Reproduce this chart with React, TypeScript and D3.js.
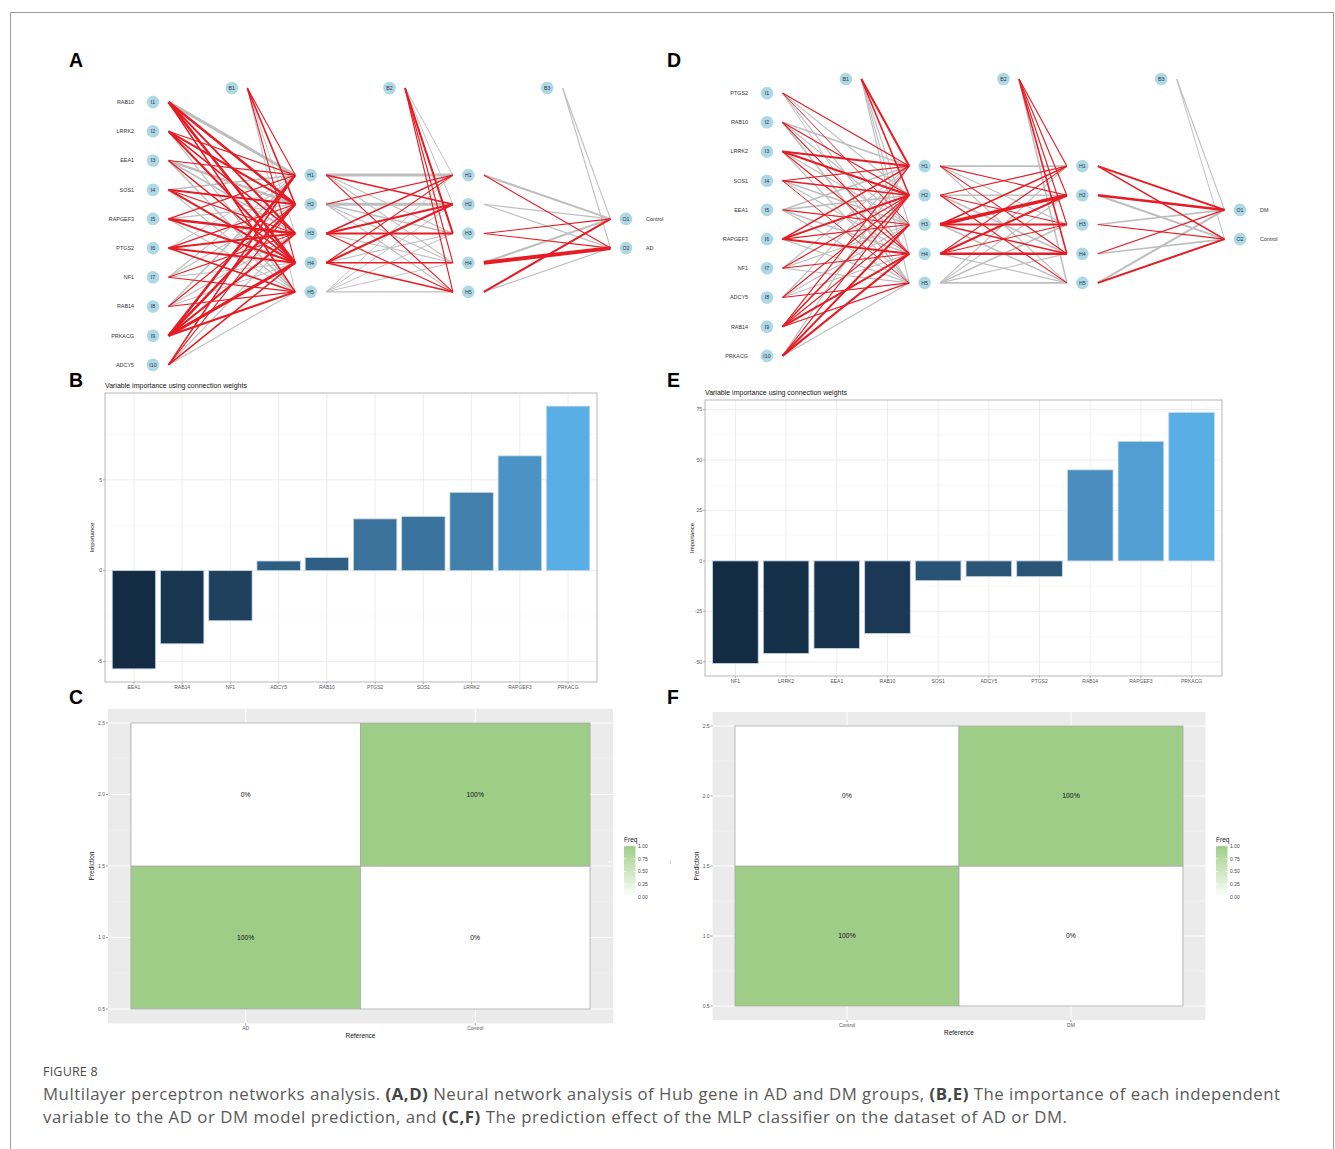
import * as d3 from "d3";

// ---------- A: AD network (positive weight = red, negative = grey) ----------
const inputsAD = ["RAB10", "LRRK2", "EEA1", "SOS1", "RAPGEF3", "PTGS2", "NF1", "RAB14", "PRKACG", "ADCY5"];
const outputsAD = ["Control", "AD"];
const wInHidAD = [
  [-3, 2.5, 2, 2.5, 1.5],
  [1, 2, 1.5, 2, -1],
  [1, -2.5, -1.5, 1.5, -1.5],
  [-1.5, 2, 1, 2, -1],
  [1, -1, 2.5, 2, -1],
  [-0.8, 1, 2, 2, 1.5],
  [-1, -1, 1, -1, 1],
  [-1.5, 1, -1, -1, 1],
  [2.5, 2.5, 2, 3, 2],
  [1.5, 1, -1, 1.5, -1],
];
const wB1AD = [1, 1.5, -0.8, 1, -0.8];
const wHidHidAD = [
  [-3, 1.5, -1, -1, 1],
  [1, -3, -1.5, -1, -1],
  [1.5, 2, 2, -1, 1],
  [1, 2, -1, 1.5, 1.5],
  [-0.8, -0.8, -0.8, -0.8, -1],
];
const wB2AD = [-0.8, -0.8, 2, 1, 1];
const wHidOutAD = [
  [-2, 1],
  [-1, -1],
  [1, 1],
  [-2, 4],
  [2, -1],
];
const wB3AD = [-1, -1];

// ---------- D: DM network ----------
const inputsDM = ["PTGS2", "RAB10", "LRRK2", "SOS1", "EEA1", "RAPGEF3", "NF1", "ADCY5", "RAB14", "PRKACG"];
const outputsDM = ["DM", "Control"];
const wInHidDM = [
  [1, -1, 0.8, -1, -0.8],
  [-1.5, 1, -1, 1, -1.5],
  [2, 2, -1, 1, -1],
  [1, 1.5, -1.5, -1, 0.8],
  [-1.5, -1.5, 1, -1.5, -1],
  [1.5, 2, 1, 2, -1],
  [-1, 1, -1, 1, -1],
  [-1, 1, -1, -1, 1],
  [1, 1.5, 1, 2, 1],
  [-1, 1, 2, 2, -1],
];
const wB1DM = [2, 1.5, -1, -1, -1];
const wHidHidDM = [
  [-1.5, 1, -1, 1, -1],
  [1, -1.5, 1, -1.5, 1],
  [1.5, 3.5, 2, 1.5, -1.5],
  [1, 2, 1, 2.5, -1],
  [-1, -1, -1.5, -1, -1.5],
];
const wB2DM = [1, 1, 1, 1.5, -1.5];
const wHidOutDM = [
  [2, 1.5],
  [2.5, -2],
  [-1.5, 1],
  [1, -1.5],
  [-2, 2],
];
const wB3DM = [-1, -0.8];

// ---------- B / E: variable importance ----------
const impNamesAD = ["EEA1", "RAB14", "NF1", "ADCY5", "RAB10", "PTGS2", "SOS1", "LRRK2", "RAPGEF3", "PRKACG"];
const impValuesAD = [-5.41, -4.03, -2.76, 0.53, 0.72, 2.85, 2.98, 4.31, 6.32, 9.06];
const impTicksAD = [-5, 0, 5];
const impMinorAD = [-2.5, 2.5, 7.5];

const impNamesDM = ["NF1", "LRRK2", "EEA1", "RAB10", "SOS1", "ADCY5", "PTGS2", "RAB14", "RAPGEF3", "PRKACG"];
const impValuesDM = [-50.8, -45.9, -43.4, -36.0, -9.8, -7.8, -7.8, 45.1, 59.2, 73.5];
const impTicksDM = [-50, -25, 0, 25, 50, 75];
const impMinorDM = [-37.5, -12.5, 12.5, 37.5, 62.5];

// ---------- C / F: confusion matrices ----------
const confRefAD = ["AD", "AD", "Control", "Control"];
const confPredAD = [1, 2, 1, 2];
const confFreqAD = [1, 0, 0, 1];
const confLevelsAD = ["AD", "Control"];

const confRefDM = ["Control", "Control", "DM", "DM"];
const confPredDM = [1, 2, 1, 2];
const confFreqDM = [1, 0, 0, 1];
const confLevelsDM = ["Control", "DM"];

const predTicks = [0.5, 1.0, 1.5, 2.0, 2.5];
const predMinor = [0.75, 1.25, 1.75, 2.25];
const legendTicks = [0, 0.25, 0.5, 0.75, 1];

const SANS = "'Liberation Sans', Arial, sans-serif";
const RED = "#e61b23";
const GREY = "#bebebe";
const GREEN = "#9ecd88";

type NetProps = {
  inputs: string[];
  outputs: string[];
  wIH: number[][];
  wB1: number[];
  wHH: number[][];
  wB2: number[];
  wHO: number[][];
  wB3: number[];
  x0: number;
  cy: number;
  biasY: number;
};

function Network(p: NetProps) {
  const layerX = d3.scaleLinear().domain([0, 3]).range([p.x0, p.x0 + 473]);
  const step = 29.2;
  const nodeY = (n: number) =>
    d3.scalePoint<number>().domain(d3.range(n)).range([p.cy - ((n - 1) / 2) * step, p.cy + ((n - 1) / 2) * step]);
  const yIn = nodeY(p.inputs.length);
  const yHid = nodeY(5);
  const yOut = nodeY(p.outputs.length);
  const ys = [yIn, yHid, yHid, yOut];
  const lw = d3.scaleLinear().domain([0, 4]).range([0.2, 3.9]);
  const off = 15.5;

  const edges: { x1: number; y1: number; x2: number; y2: number; v: number }[] = [];
  const addLayer = (w: number[][], L: number) =>
    w.forEach((row, i) =>
      row.forEach((v, j) =>
        edges.push({ x1: layerX(L) + off, y1: ys[L](i)!, x2: layerX(L + 1) - off, y2: ys[L + 1](j)!, v })
      )
    );
  const addBias = (w: number[], L: number) =>
    w.forEach((v, j) =>
      edges.push({ x1: layerX(L + 0.5) + off, y1: p.biasY, x2: layerX(L + 1) - off, y2: ys[L + 1](j)!, v })
    );
  addLayer(p.wIH, 0);
  addBias(p.wB1, 0);
  addLayer(p.wHH, 1);
  addBias(p.wB2, 1);
  addLayer(p.wHO, 2);
  addBias(p.wB3, 2);

  const nodes: { x: number; y: number; label: string }[] = [];
  p.inputs.forEach((_, i) => nodes.push({ x: layerX(0), y: yIn(i)!, label: "I" + (i + 1) }));
  d3.range(5).forEach((i) => nodes.push({ x: layerX(1), y: yHid(i)!, label: "H" + (i + 1) }));
  d3.range(5).forEach((i) => nodes.push({ x: layerX(2), y: yHid(i)!, label: "H" + (i + 1) }));
  p.outputs.forEach((_, i) => nodes.push({ x: layerX(3), y: yOut(i)!, label: "O" + (i + 1) }));
  [0, 1, 2].forEach((L) => nodes.push({ x: layerX(L + 0.5), y: p.biasY, label: "B" + (L + 1) }));

  return (
    <g fontFamily={SANS}>
      {edges
        .slice()
        .sort((a, b) => (a.v > 0 ? 1 : 0) - (b.v > 0 ? 1 : 0))
        .map((e, k) => (
          <line key={k} x1={e.x1} y1={e.y1} x2={e.x2} y2={e.y2} stroke={e.v > 0 ? RED : GREY} strokeWidth={lw(Math.abs(e.v))} />
        ))}
      {nodes.map((n, k) => (
        <g key={k}>
          <circle cx={n.x} cy={n.y} r={6.3} fill="#add8e6" />
          <text x={n.x} y={n.y + 1.9} fontSize={5.3} textAnchor="middle" fill="#333">
            {n.label}
          </text>
        </g>
      ))}
      {p.inputs.map((s, i) => (
        <text key={s} x={layerX(0) - 19} y={yIn(i)! + 1.9} fontSize={5.4} textAnchor="end" fill="#333">
          {s}
        </text>
      ))}
      {p.outputs.map((s, i) => (
        <text key={s} x={layerX(3) + 20} y={yOut(i)! + 1.9} fontSize={5.4} fill="#333">
          {s}
        </text>
      ))}
    </g>
  );
}

type BarProps = {
  names: string[];
  values: number[];
  ticks: number[];
  minor: number[];
  left: number;
  top: number;
  width: number;
  height: number;
};

function BarPanel(p: BarProps) {
  const x = d3.scaleBand().domain(p.names).range([p.left, p.left + p.width]).paddingInner(0.1).paddingOuter(0.15);
  const [lo, hi] = d3.extent(p.values) as [number, number];
  const pad = (hi - lo) * 0.05;
  const y = d3.scaleLinear().domain([lo - pad, hi + pad]).range([p.top + p.height, p.top]);
  const fill = d3.scaleLinear<string>().domain([lo, hi]).range(["#132B43", "#5aaee6"]).interpolate(d3.interpolateLab);
  const bottom = p.top + p.height;
  return (
    <g fontFamily={SANS}>
      <text x={p.left} y={p.top - 5} fontSize={7} fill="#111">
        Variable importance using connection weights
      </text>
      {p.minor.map((t) => (
        <line key={"m" + t} x1={p.left} x2={p.left + p.width} y1={y(t)} y2={y(t)} stroke="#f3f3f3" strokeWidth={0.6} />
      ))}
      {p.ticks.map((t) => (
        <line key={"t" + t} x1={p.left} x2={p.left + p.width} y1={y(t)} y2={y(t)} stroke="#ebebeb" strokeWidth={0.9} />
      ))}
      {p.names.map((n) => (
        <line key={"v" + n} x1={x(n)! + x.bandwidth() / 2} x2={x(n)! + x.bandwidth() / 2} y1={p.top} y2={bottom} stroke="#ebebeb" strokeWidth={0.9} />
      ))}
      {p.names.map((n, i) => (
        <rect
          key={n}
          x={x(n)}
          width={x.bandwidth()}
          y={Math.min(y(0), y(p.values[i]))}
          height={Math.abs(y(p.values[i]) - y(0))}
          fill={fill(p.values[i])}
          stroke="#c6d7e6"
          strokeWidth={0.8}
        />
      ))}
      <rect x={p.left} y={p.top} width={p.width} height={p.height} fill="none" stroke="#b0b0b0" strokeWidth={0.9} />
      {p.ticks.map((t) => (
        <g key={"yl" + t}>
          <line x1={p.left - 2} x2={p.left} y1={y(t)} y2={y(t)} stroke="#888" strokeWidth={0.6} />
          <text x={p.left - 3} y={y(t) + 1.8} fontSize={5} textAnchor="end" fill="#555">
            {t}
          </text>
        </g>
      ))}
      {p.names.map((n) => (
        <g key={"xl" + n}>
          <line x1={x(n)! + x.bandwidth() / 2} x2={x(n)! + x.bandwidth() / 2} y1={bottom} y2={bottom + 2} stroke="#888" strokeWidth={0.6} />
          <text x={x(n)! + x.bandwidth() / 2} y={bottom + 6.5} fontSize={5} textAnchor="middle" fill="#555">
            {n}
          </text>
        </g>
      ))}
      <text
        transform={`translate(${p.left - 11},${p.top + p.height / 2}) rotate(-90)`}
        fontSize={6}
        textAnchor="middle"
        fill="#111"
      >
        Importance
      </text>
    </g>
  );
}

type ConfProps = {
  refs: string[];
  preds: number[];
  freqs: number[];
  levels: string[];
  left: number;
  top: number;
  width: number;
  height: number;
  legendX: number;
  gradId: string;
};

function ConfPanel(p: ConfProps) {
  const x = d3.scaleLinear().domain([0.4, 2.6]).range([p.left, p.left + p.width]);
  const y = d3.scaleLinear().domain([0.4, 2.6]).range([p.top + p.height, p.top]);
  const col = d3.scaleLinear<string>().domain([0, 1]).range(["#ffffff", GREEN]);
  const lvl = (r: string) => p.levels.indexOf(r) + 1;
  const bottom = p.top + p.height;
  const lg = d3.scaleLinear().domain([0, 1]).range([897, 846]);
  return (
    <g fontFamily={SANS}>
      <defs>
        <linearGradient id={p.gradId} x1="0" y1="1" x2="0" y2="0">
          <stop offset="0" stopColor={col(0)} />
          <stop offset="1" stopColor={col(1)} />
        </linearGradient>
      </defs>
      <rect x={p.left} y={p.top} width={p.width} height={p.height} fill="#ebebeb" />
      {predMinor.map((t) => (
        <line key={"m" + t} x1={p.left} x2={p.left + p.width} y1={y(t)} y2={y(t)} stroke="#f5f5f5" strokeWidth={0.5} />
      ))}
      {predTicks.map((t) => (
        <line key={"t" + t} x1={p.left} x2={p.left + p.width} y1={y(t)} y2={y(t)} stroke="#ffffff" strokeWidth={1} />
      ))}
      {p.levels.map((l, i) => (
        <line key={"v" + l} x1={x(i + 1)} x2={x(i + 1)} y1={p.top} y2={bottom} stroke="#ffffff" strokeWidth={1} />
      ))}
      {p.refs.map((r, i) => (
        <g key={i}>
          <rect
            x={x(lvl(r) - 0.5)}
            y={y(p.preds[i] + 0.5)}
            width={x(1.5) - x(0.5)}
            height={y(0.5) - y(1.5)}
            fill={col(p.freqs[i])}
            stroke="#a8a8a8"
            strokeWidth={0.8}
          />
          <text x={x(lvl(r))} y={y(p.preds[i]) + 2.4} fontSize={6.8} textAnchor="middle" fill="#111">
            {Math.round(p.freqs[i] * 100) + "%"}
          </text>
        </g>
      ))}
      {predTicks.map((t) => (
        <g key={"yl" + t}>
          <line x1={p.left - 2} x2={p.left} y1={y(t)} y2={y(t)} stroke="#555" strokeWidth={0.6} />
          <text x={p.left - 3} y={y(t) + 1.8} fontSize={5} textAnchor="end" fill="#555">
            {t.toFixed(1)}
          </text>
        </g>
      ))}
      {p.levels.map((l, i) => (
        <g key={"xl" + l}>
          <line x1={x(i + 1)} x2={x(i + 1)} y1={bottom} y2={bottom + 2} stroke="#555" strokeWidth={0.6} />
          <text x={x(i + 1)} y={bottom + 6.5} fontSize={5} textAnchor="middle" fill="#555">
            {l}
          </text>
        </g>
      ))}
      <text x={p.left + p.width / 2} y={bottom + 15} fontSize={6.5} textAnchor="middle" fill="#111">
        Reference
      </text>
      <text
        transform={`translate(${p.left - 14},${p.top + p.height / 2}) rotate(-90)`}
        fontSize={6.5}
        textAnchor="middle"
        fill="#111"
      >
        Prediction
      </text>
      <text x={p.legendX} y={842} fontSize={6.5} fill="#111">
        Freq
      </text>
      <rect x={p.legendX} y={846} width={11.5} height={51} fill={`url(#${p.gradId})`} />
      {legendTicks.map((t) => (
        <g key={"lg" + t}>
          <line x1={p.legendX} x2={p.legendX + 2.3} y1={lg(t)} y2={lg(t)} stroke="#fff" strokeWidth={0.6} />
          <line x1={p.legendX + 9.2} x2={p.legendX + 11.5} y1={lg(t)} y2={lg(t)} stroke="#fff" strokeWidth={0.6} />
          <text x={p.legendX + 14} y={lg(t) + 1.8} fontSize={5} fill="#444">
            {t.toFixed(2)}
          </text>
        </g>
      ))}
    </g>
  );
}

function PanelLabel({ x, y, t }: { x: number; y: number; t: string }) {
  return (
    <text x={x} y={y} fontFamily={SANS} fontWeight="bold" fontSize={19.5} fill="#000">
      {t}
    </text>
  );
}

export default function App() {
  return (
    <svg
      width={1335}
      height={1149}
      style={{ position: "absolute", left: 0, top: 0, background: "#fff" }}
      xmlns="http://www.w3.org/2000/svg"
    >
      <rect width={1335} height={1149} fill="#fff" />
      <path d="M10.5,1149 V12.5 H1333.5 V1149" fill="none" stroke="#9a9a9a" strokeWidth={1} />

      <PanelLabel x={69} y={67} t="A" />
      <PanelLabel x={667} y={67} t="D" />
      <PanelLabel x={69} y={387} t="B" />
      <PanelLabel x={667} y={387} t="E" />
      <PanelLabel x={69} y={704} t="C" />
      <PanelLabel x={667} y={704} t="F" />

      <Network
        inputs={inputsAD}
        outputs={outputsAD}
        wIH={wInHidAD}
        wB1={wB1AD}
        wHH={wHidHidAD}
        wB2={wB2AD}
        wHO={wHidOutAD}
        wB3={wB3AD}
        x0={153}
        cy={233.5}
        biasY={88}
      />
      <Network
        inputs={inputsDM}
        outputs={outputsDM}
        wIH={wInHidDM}
        wB1={wB1DM}
        wHH={wHidHidDM}
        wB2={wB2DM}
        wHO={wHidOutDM}
        wB3={wB3DM}
        x0={767}
        cy={224.5}
        biasY={79}
      />

      <BarPanel names={impNamesAD} values={impValuesAD} ticks={impTicksAD} minor={impMinorAD} left={105} top={393} width={492} height={289} />
      <BarPanel names={impNamesDM} values={impValuesDM} ticks={impTicksDM} minor={impMinorDM} left={705} top={400} width={517} height={276} />

      <ConfPanel
        refs={confRefAD}
        preds={confPredAD}
        freqs={confFreqAD}
        levels={confLevelsAD}
        left={108}
        top={708.7}
        width={505}
        height={314.6}
        legendX={624}
        gradId="gradC"
      />
      <ConfPanel
        refs={confRefDM}
        preds={confPredDM}
        freqs={confFreqDM}
        levels={confLevelsDM}
        left={712.6}
        top={712}
        width={492.8}
        height={308}
        legendX={1216}
        gradId="gradF"
      />
      <line x1={608} x2={611} y1={862} y2={862} stroke="#fff" strokeWidth={0.8} />
      <line x1={670.5} x2={670.5} y1={860} y2={864} stroke="#bbb" strokeWidth={0.6} />

      <g fontFamily="'Open Sans', Lato, sans-serif">
        <text x={43} y={1076} fontSize={12.5} fill="#4a4a4a" letterSpacing={0.2}>
          FIGURE 8
        </text>
        <text x={43} y={1100} fontSize={16.8} fill="#595959" textLength={1237} lengthAdjust="spacing">
          Multilayer perceptron networks analysis. <tspan fontWeight="bold" fill="#444">(A,D)</tspan> Neural network
          analysis of Hub gene in AD and DM groups, <tspan fontWeight="bold" fill="#444">(B,E)</tspan> The importance of
          each independent
        </text>
        <text x={43} y={1123} fontSize={16.8} fill="#595959" textLength={1024} lengthAdjust="spacing">
          variable to the AD or DM model prediction, and <tspan fontWeight="bold" fill="#444">(C,F)</tspan> The prediction
          effect of the MLP classifier on the dataset of AD or DM.
        </text>
      </g>
    </svg>
  );
}
